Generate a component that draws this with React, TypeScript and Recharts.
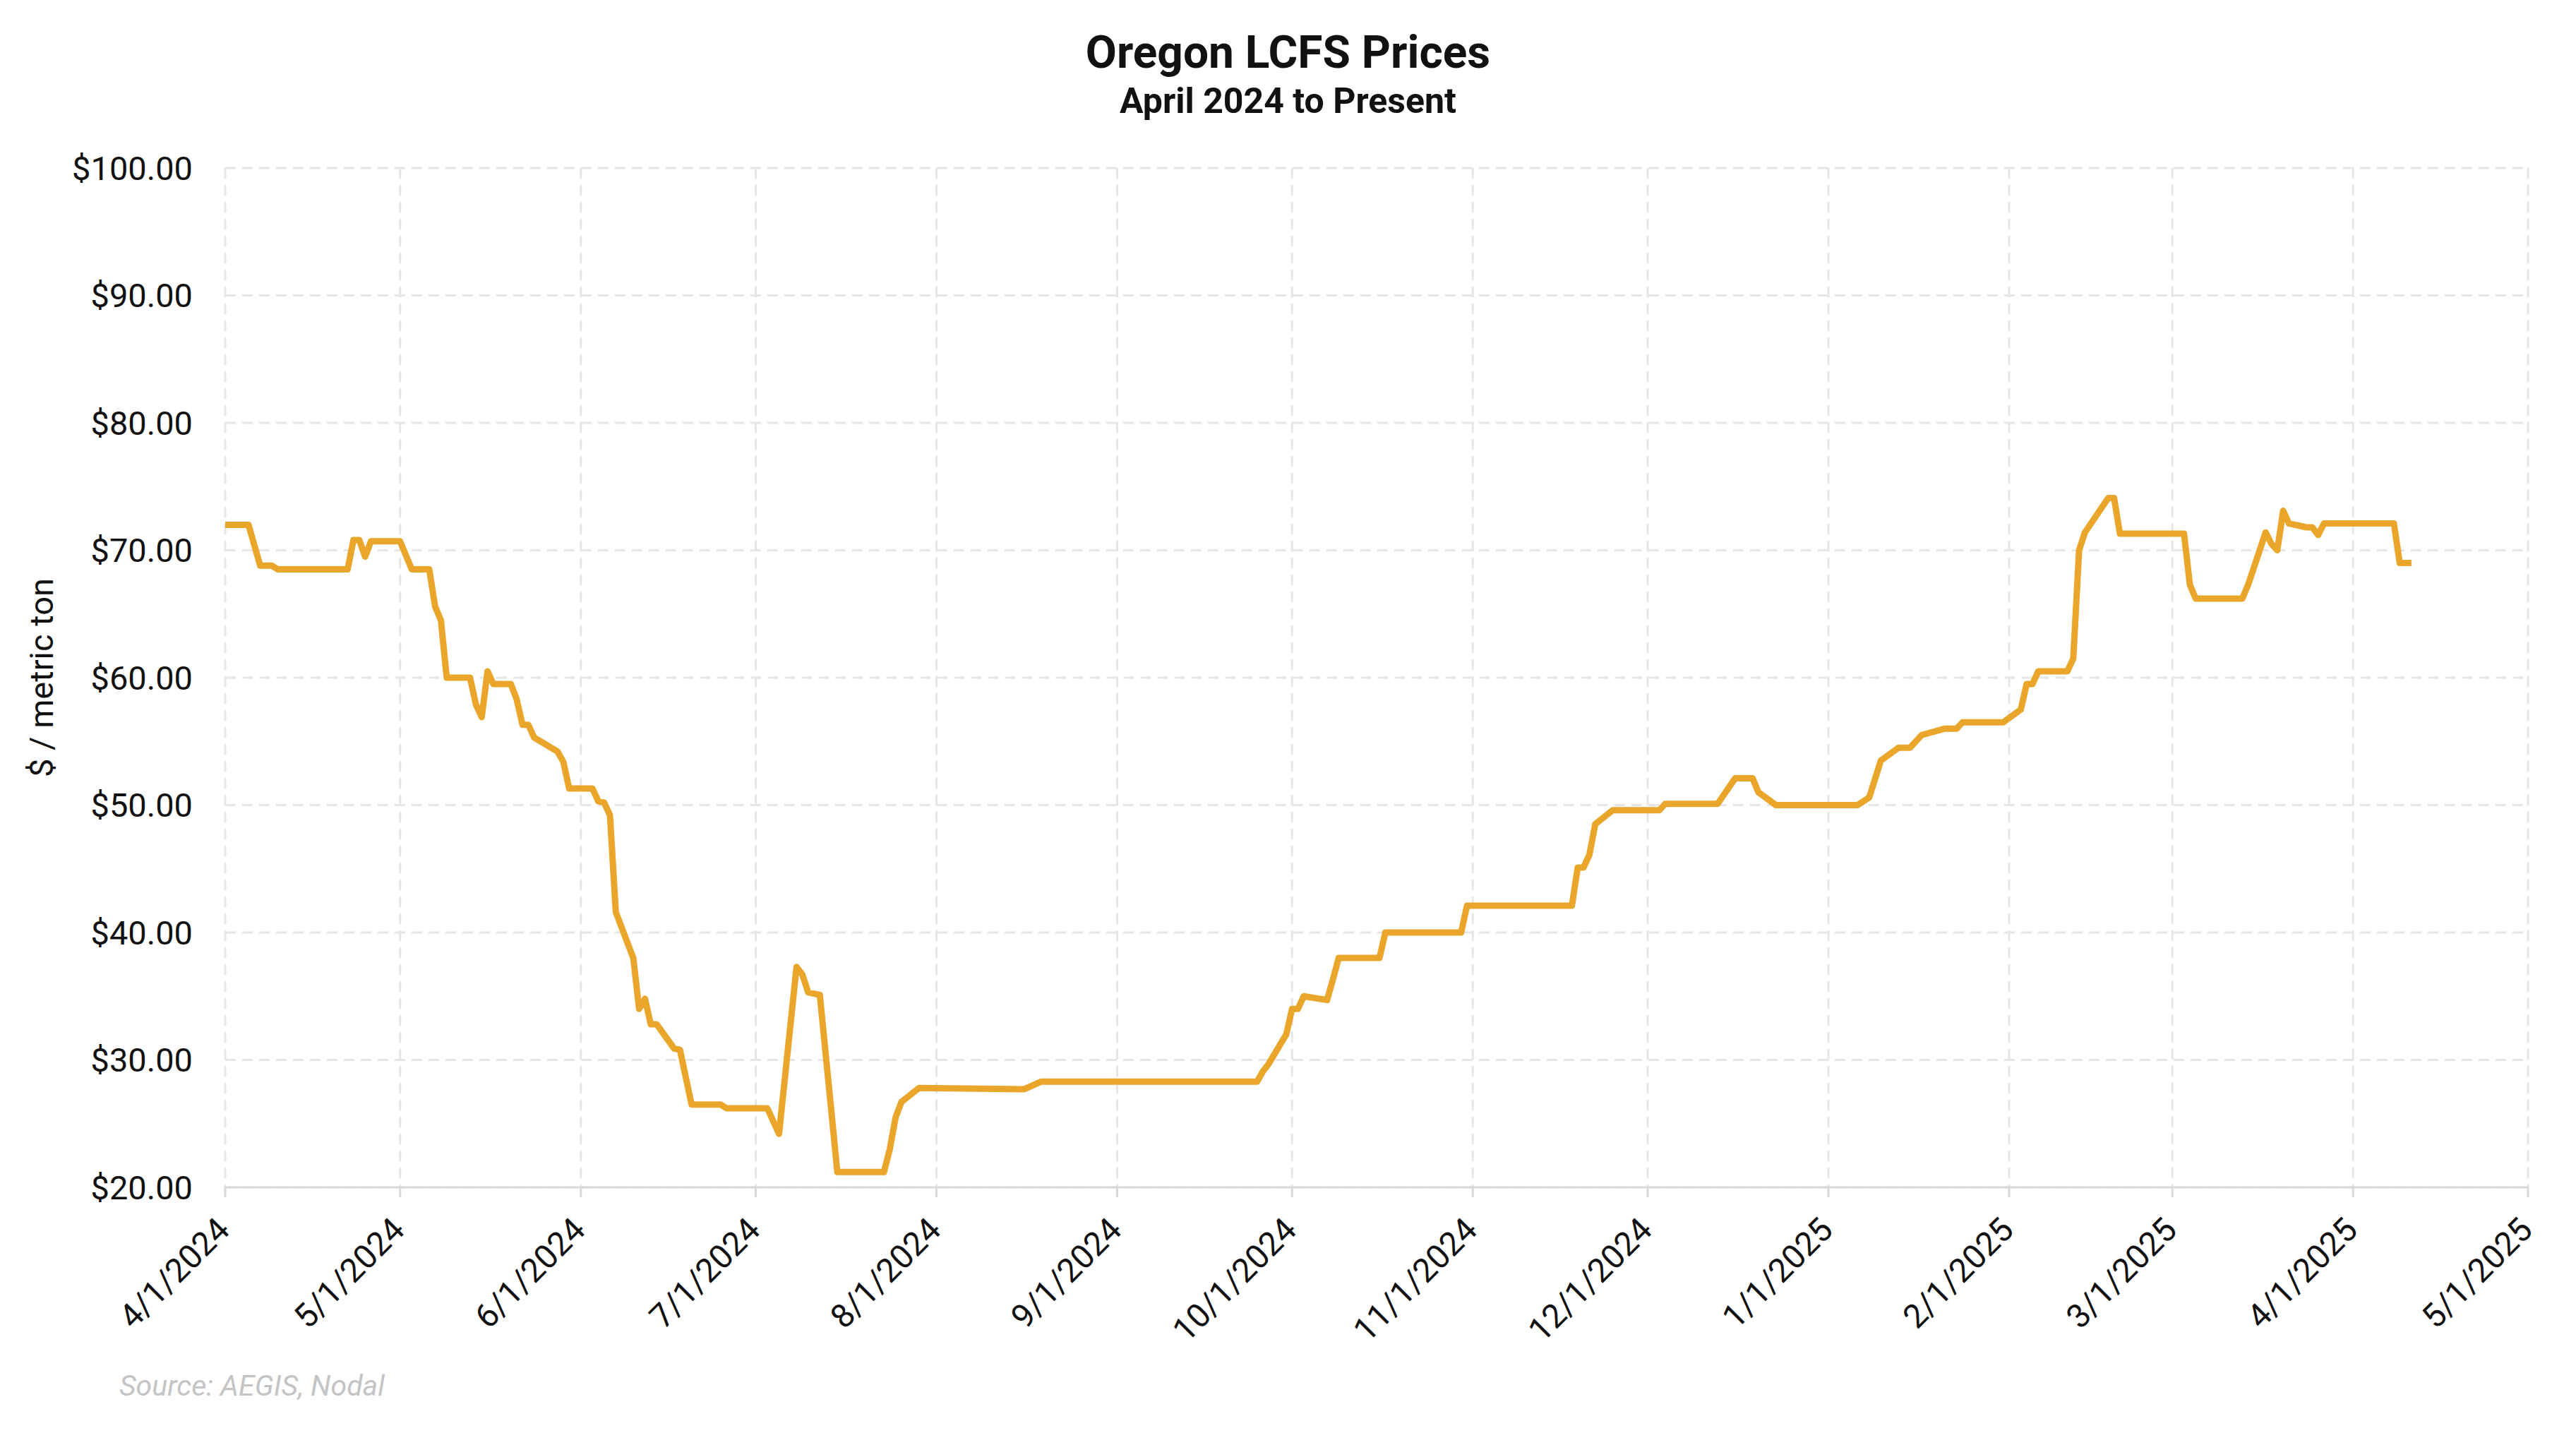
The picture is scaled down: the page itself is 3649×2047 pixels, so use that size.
import React from "react";
import { LineChart, Line, XAxis, YAxis, CartesianGrid } from "recharts";

// trading days where the price changes slope
const dates = [
  "2024-04-01", "2024-04-05", "2024-04-07", "2024-04-09", "2024-04-10", "2024-04-22",
  "2024-04-23", "2024-04-24", "2024-04-25", "2024-04-26", "2024-05-01", "2024-05-03",
  "2024-05-06", "2024-05-07", "2024-05-08", "2024-05-09", "2024-05-13", "2024-05-14",
  "2024-05-15", "2024-05-16", "2024-05-17", "2024-05-20", "2024-05-21", "2024-05-22",
  "2024-05-23", "2024-05-24", "2024-05-28", "2024-05-29", "2024-05-30", "2024-06-03",
  "2024-06-04", "2024-06-05", "2024-06-06", "2024-06-07", "2024-06-10", "2024-06-11",
  "2024-06-12", "2024-06-13", "2024-06-14", "2024-06-17", "2024-06-18", "2024-06-20",
  "2024-06-25", "2024-06-26", "2024-07-03", "2024-07-05", "2024-07-08", "2024-07-09",
  "2024-07-10", "2024-07-12", "2024-07-15", "2024-07-23", "2024-07-24", "2024-07-25",
  "2024-07-26", "2024-07-29", "2024-08-16", "2024-08-19", "2024-09-25", "2024-09-26",
  "2024-09-27", "2024-09-30", "2024-10-01", "2024-10-02", "2024-10-03", "2024-10-07",
  "2024-10-08", "2024-10-09", "2024-10-16", "2024-10-17", "2024-10-30", "2024-10-31",
  "2024-11-18", "2024-11-19", "2024-11-20", "2024-11-21", "2024-11-22", "2024-11-25",
  "2024-12-03", "2024-12-04", "2024-12-13", "2024-12-16", "2024-12-19", "2024-12-20",
  "2024-12-23", "2025-01-06", "2025-01-08", "2025-01-10", "2025-01-13", "2025-01-15",
  "2025-01-17", "2025-01-21", "2025-01-23", "2025-01-24", "2025-01-31", "2025-02-03",
  "2025-02-04", "2025-02-05", "2025-02-06", "2025-02-11", "2025-02-12", "2025-02-13",
  "2025-02-14", "2025-02-18", "2025-02-19", "2025-02-20", "2025-03-03", "2025-03-04",
  "2025-03-05", "2025-03-13", "2025-03-14", "2025-03-17", "2025-03-18", "2025-03-19",
  "2025-03-20", "2025-03-21", "2025-03-24", "2025-03-25", "2025-03-26", "2025-03-27",
  "2025-04-08", "2025-04-09", "2025-04-11",
];

const prices = [
  72.0, 72.0, 68.8, 68.8, 68.5, 68.5,
  70.8, 70.8, 69.5, 70.7, 70.7, 68.5,
  68.5, 65.6, 64.5, 60.0, 60.0, 57.9,
  56.9, 60.5, 59.5, 59.5, 58.3, 56.3,
  56.3, 55.3, 54.2, 53.4, 51.3, 51.3,
  50.3, 50.2, 49.2, 41.6, 38.0, 34.0,
  34.8, 32.8, 32.8, 30.9, 30.8, 26.5,
  26.5, 26.2, 26.2, 24.2, 37.3, 36.7,
  35.3, 35.1, 21.2, 21.2, 23.0, 25.5,
  26.7, 27.8, 27.7, 28.3, 28.3, 29.1,
  29.7, 32.0, 34.0, 34.0, 35.0, 34.7,
  36.3, 38.0, 38.0, 40.0, 40.0, 42.1,
  42.1, 45.1, 45.1, 46.1, 48.5, 49.6,
  49.6, 50.1, 50.1, 52.1, 52.1, 51.0,
  50.0, 50.0, 50.6, 53.5, 54.5, 54.5,
  55.5, 56.0, 56.0, 56.5, 56.5, 57.5,
  59.5, 59.5, 60.5, 60.5, 61.5, 70.0,
  71.4, 74.1, 74.1, 71.3, 71.3, 67.3,
  66.2, 66.2, 67.3, 71.4, 70.5, 70.0,
  73.1, 72.1, 71.8, 71.8, 71.2, 72.1,
  72.1, 69.0, 69.0,
];

const monthTicks = [
  "2024-04-01", "2024-05-01", "2024-06-01", "2024-07-01", "2024-08-01",
  "2024-09-01", "2024-10-01", "2024-11-01", "2024-12-01", "2025-01-01",
  "2025-02-01", "2025-03-01", "2025-04-01", "2025-05-01",
];

const priceTicks = [20, 30, 40, 50, 60, 70, 80, 90, 100];

const toTime = (s: string) => {
  const [y, m, d] = s.split("-").map(Number);
  return Date.UTC(y, m - 1, d);
};

const fmtDate = (t: number) => {
  const d = new Date(t);
  return `${d.getUTCMonth() + 1}/${d.getUTCDate()}/${d.getUTCFullYear()}`;
};

const data = dates.map((d, i) => ({ t: toTime(d), price: prices[i] }));
const xTicks = monthTicks.map(toTime);

const FONT = "Roboto, 'Noto Sans', sans-serif";

const DateTick = (props: any) => {
  const { x, y, payload } = props;
  const ax = x + 9;
  return (
    <text
      x={ax}
      y={y}
      transform={`rotate(-45 ${ax} ${y})`}
      textAnchor="end"
      fontSize={47}
      fill="#111"
      fontFamily={FONT}
    >
      {fmtDate(payload.value)}
    </text>
  );
};

const AxisTitle = (props: any) => {
  const vb = props.viewBox || {};
  const cx = 75;
  const cy = vb.height ? vb.y + vb.height / 2 : 960;
  return (
    <text
      x={cx}
      y={cy}
      transform={`rotate(-90 ${cx} ${cy})`}
      textAnchor="middle"
      fontSize={47}
      fill="#111"
      fontFamily={FONT}
    >
      $ / metric ton
    </text>
  );
};

export default function App() {
  return (
    <div
      style={{
        position: "absolute",
        left: 0,
        top: 0,
        width: 3649,
        height: 2047,
        background: "#fff",
        fontFamily: FONT,
        overflow: "hidden",
      }}
    >
      <div style={{ position: "absolute", left: 0, top: 43, width: 3649, textAlign: "center", fontSize: 64, lineHeight: "64px", fontWeight: 700, color: "#111" }}>
        Oregon LCFS Prices
      </div>
      <div style={{ position: "absolute", left: 0, top: 118, width: 3649, textAlign: "center", fontSize: 50, lineHeight: "50px", fontWeight: 700, color: "#111" }}>
        April 2024 to Present
      </div>

      <div style={{ position: "absolute", left: 0, top: 0 }}>
        <LineChart
          width={3649}
          height={2047}
          data={data}
          margin={{ top: 238, right: 68, bottom: 115, left: 0 }}
        >
          <CartesianGrid stroke="#e6e6e6" strokeWidth={3} strokeDasharray="15 9" />
          <XAxis
            dataKey="t"
            type="number"
            scale="time"
            domain={[xTicks[0], xTicks[xTicks.length - 1]]}
            ticks={xTicks}
            interval={0}
            height={250}
            tickSize={14}
            tickMargin={49}
            axisLine={{ stroke: "#d9d9d9", strokeWidth: 3 }}
            tickLine={{ stroke: "#d9d9d9", strokeWidth: 3 }}
            tick={<DateTick />}
          />
          <YAxis
            type="number"
            domain={[20, 100]}
            ticks={priceTicks}
            interval={0}
            width={319}
            tickSize={0}
            tickMargin={46}
            axisLine={false}
            tickLine={false}
            tickFormatter={(v: number) => `$${v.toFixed(2)}`}
            tick={{ fontSize: 47, fill: "#111", fontFamily: FONT }}
            label={{ content: <AxisTitle /> }}
          />
          <Line
            type="linear"
            dataKey="price"
            stroke="#EAA62A"
            strokeWidth={9}
            strokeLinejoin="round"
            dot={false}
            activeDot={false}
            isAnimationActive={false}
          />
        </LineChart>
      </div>

      <div style={{ position: "absolute", left: 169, top: 1943, fontSize: 41, lineHeight: "41px", fontStyle: "italic", color: "#c4c4c4" }}>
        Source: AEGIS, Nodal
      </div>
    </div>
  );
}
